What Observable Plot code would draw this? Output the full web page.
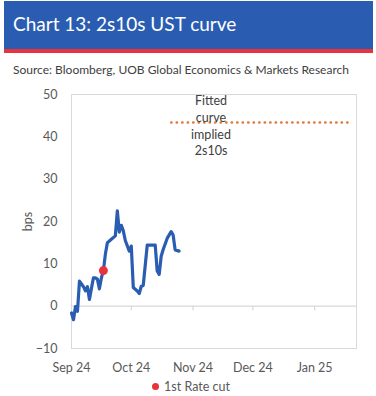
<!DOCTYPE html>
<html><head><meta charset="utf-8">
<script src="https://cdn.jsdelivr.net/npm/d3@7"></script>
<script src="https://cdn.jsdelivr.net/npm/@observablehq/plot@0.6"></script>
<style>
body{margin:0;background:#fff;font-family:Lato,"Open Sans",sans-serif;}
#wrap{position:relative;width:376px;height:396px;overflow:hidden;background:#fff;}
#hdr{position:absolute;left:4px;top:1px;width:369px;height:48px;background:#2a5db1;border-bottom:4px solid #e8323c;}
#title{position:absolute;left:9px;top:11px;color:#fff;font-size:19px;white-space:nowrap;}
#source{position:absolute;left:13px;top:62px;color:#404040;font-size:12px;white-space:nowrap;}
#chart{position:absolute;left:0;top:85px;}
#legend{position:absolute;left:3px;top:379px;width:376px;text-align:center;color:#595959;font-size:12.5px;}
#legend .dot{display:inline-block;width:7px;height:7px;border-radius:50%;background:#e8323c;margin-right:5px;vertical-align:1px;}
</style>
</head><body>
<div id="wrap">
  <div id="hdr"><div id="title">Chart 13: 2s10s UST curve</div></div>
  <div id="source">Source: Bloomberg, UOB Global Economics &amp; Markets Research</div>
  <div id="chart"></div>
  <div id="legend"><span class="dot"></span>1st Rate cut</div>
</div>
<script>
// 2s10s spread, bps
const dates = ["2024-09-01","2024-09-02","2024-09-03","2024-09-04","2024-09-05","2024-09-07","2024-09-08","2024-09-09","2024-09-10","2024-09-12","2024-09-13","2024-09-14","2024-09-15","2024-09-16","2024-09-17","2024-09-18","2024-09-19","2024-09-21","2024-09-23","2024-09-24","2024-09-25","2024-09-26","2024-09-27","2024-09-28","2024-09-30","2024-10-01","2024-10-02","2024-10-04","2024-10-05","2024-10-06","2024-10-07","2024-10-09","2024-10-11","2024-10-13","2024-10-14","2024-10-15","2024-10-16","2024-10-17","2024-10-19","2024-10-21","2024-10-22","2024-10-23","2024-10-25"];
const spread = [-1.6,-3.2,-0.1,-1.2,5.9,4.6,3.6,4.6,1.6,6.7,6.7,6.4,4.1,6.7,8.4,12.3,15.0,15.8,16.6,22.5,17.5,19.1,17.8,15.5,13.0,14.2,4.4,3.6,3.0,4.7,4.9,14.4,14.4,14.4,8.3,7.5,11.8,13.4,16.0,17.6,16.8,13.3,13.0];
const rateCutDate = ["2024-09-17"];
const rateCutValue = [8.4];
const fittedDates = ["2024-10-21","2025-01-20"];
const fittedValues = [43.4,43.4];
const annotationText = ["Fitted\ncurve\nimplied\n2s10s"];
const annotationDate = ["2024-11-10"];
const annotationValue = [42.8];
const yTicks = [-10,0,10,20,30,40,50];
const monthTicks = ["2024-09-01","2024-10-01","2024-11-01","2024-12-01","2025-01-01"];
const xDomain = ["2024-09-01","2025-01-22"];

const P = d3.utcParse("%Y-%m-%d");
const series = dates.map((d,i)=>({date:P(d), v:spread[i]}));
const cut = rateCutDate.map((d,i)=>({date:P(d), v:rateCutValue[i]}));
const fitted = fittedDates.map((d,i)=>({date:P(d), v:fittedValues[i]}));
const note = annotationText.map((t,i)=>({date:P(annotationDate[i]), v:annotationValue[i], t}));
const ticks = monthTicks.map(P);
const innerTicks = ticks.slice(1);

const grey = "#d9d9d9";
const chart = Plot.plot({
  width: 376, height: 300,
  marginLeft: 71, marginRight: 20, marginTop: 9, marginBottom: 37,
  style: {fontFamily: "Lato, 'Open Sans', sans-serif", fontSize: "12.5px", color: "#595959", background: "transparent"},
  x: {type: "utc", domain: xDomain.map(P)},
  y: {domain: [-10, 50]},
  marks: [
    Plot.frame({stroke: grey}),
    Plot.ruleY([0], {stroke: grey, strokeWidth: 1.2}),
    Plot.ruleX(innerTicks, {x: d=>d, y1: 0, y2: -1.1, stroke: grey, strokeWidth: 1.2}),
    Plot.axisY({ticks: yTicks, tickSize: 0, tickPadding: 14, label: "bps", labelAnchor: "center", labelArrow: "none", labelOffset: 48, fill: "#595959"}),
    Plot.axisX({ticks: ticks, tickSize: 0, tickPadding: 15, tickFormat: d3.utcFormat("%b %y"), label: null, fill: "#595959"}),
    Plot.lineY(fitted, {x: "date", y: "v", stroke: "#e07a3a", strokeWidth: 2.4, strokeDasharray: "0.4,5.1", strokeLinecap: "round"}),
    Plot.text(note, {x: "date", y: "v", text: "t", lineHeight: 1.33, fill: "#404040", fontSize: 12.5}),
    Plot.lineY(series, {x: "date", y: "v", stroke: "#2a5db1", strokeWidth: 3.2, strokeLinejoin: "round"}),
    Plot.dot(cut, {x: "date", y: "v", r: 4.5, fill: "#e8323c", stroke: "none"})
  ]
});
document.getElementById("chart").appendChild(chart);
</script>
</body></html>
